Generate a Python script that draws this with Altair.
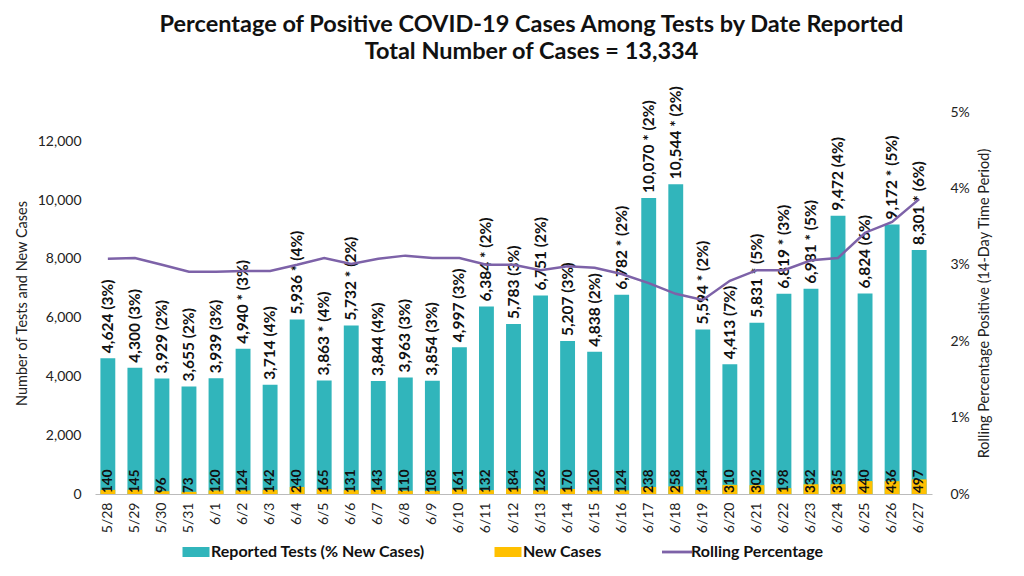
import altair as alt
import pandas as pd

dates = ["5/28", "5/29", "5/30", "5/31", "6/1", "6/2", "6/3", "6/4", "6/5", "6/6",
         "6/7", "6/8", "6/9", "6/10", "6/11", "6/12", "6/13", "6/14", "6/15", "6/16",
         "6/17", "6/18", "6/19", "6/20", "6/21", "6/22", "6/23", "6/24", "6/25", "6/26", "6/27"]
tests = [4624, 4300, 3929, 3655, 3939, 4940, 3714, 5936, 3863, 5732,
         3844, 3963, 3854, 4997, 6384, 5783, 6751, 5207, 4838, 6782,
         10070, 10544, 5594, 4413, 5831, 6819, 6981, 9472, 6824, 9172, 8301]
pos_pct = [3, 3, 2, 2, 3, 3, 4, 4, 4, 2,
           4, 3, 3, 3, 2, 3, 2, 3, 2, 2,
           2, 2, 2, 7, 5, 3, 5, 4, 6, 5, 6]
starred = [0, 0, 0, 0, 0, 1, 0, 1, 1, 1,
           0, 0, 0, 0, 1, 0, 0, 0, 0, 1,
           1, 1, 1, 0, 1, 1, 1, 0, 0, 1, 1]
new_cases = [140, 145, 96, 73, 120, 124, 142, 240, 165, 131,
             143, 110, 108, 161, 132, 184, 126, 170, 120, 124,
             238, 258, 134, 310, 302, 198, 332, 335, 440, 436, 497]
rolling_pct = [3.08, 3.09, 3.00, 2.91, 2.91, 2.92, 2.92, 3.00, 3.09, 3.01,
               3.08, 3.12, 3.09, 3.09, 3.00, 3.00, 2.93, 2.98, 2.96, 2.88,
               2.76, 2.62, 2.54, 2.79, 2.93, 2.93, 3.06, 3.09, 3.42, 3.56, 3.86]
series_names = ["Reported Tests (% New Cases)", "New Cases", "Rolling Percentage"]

TEAL = "#31B5BB"
GOLD = "#FFC000"
PURPLE = "#7D62A8"
FONT = "Lato"

labels = [f"{t:,}{' * ' if s else '  '}({p}%)" for t, s, p in zip(tests, starred, pos_pct)]

df = pd.DataFrame({
    "date": dates,
    "tests": tests,
    "new": new_cases,
    "label": labels,
    "roll": [r / 100 for r in rolling_pct],
    "s_tests": series_names[0],
    "s_new": series_names[1],
    "s_roll": series_names[2],
})

x_enc = alt.X("date:N", sort=dates, title=None,
              scale=alt.Scale(paddingInner=0.45, paddingOuter=0.2),
              axis=alt.Axis(labelAngle=-90, labelFontSize=14, labelFont=FONT,
                            labelColor="#222", domainColor="#BBBBBB", ticks=False,
                            labelPadding=8))

y_left = alt.Y("tests:Q", scale=alt.Scale(domain=[0, 13000], nice=False),
               axis=alt.Axis(values=[0, 2000, 4000, 6000, 8000, 10000, 12000], format=",d",
                             title="Number of Tests and New Cases", grid=False, domain=False,
                             ticks=False, labelFontSize=14, labelFont=FONT, labelColor="#222",
                             titleFontSize=14.5, titleFont=FONT, titleFontWeight="normal",
                             titleColor="#222", labelPadding=14, titlePadding=8))

fill_scale = alt.Scale(domain=series_names[:2], range=[TEAL, GOLD])
fill_legend = alt.Legend(title=None, orient="none", legendX=91, legendY=430,
                         direction="horizontal",
                         symbolType="M-1.35,-0.5H1.35V0.5H-1.35Z", symbolSize=400,
                         symbolStrokeWidth=0, labelFontSize=16, labelFont=FONT,
                         labelFontWeight="bold", labelColor="#111", columnPadding=68,
                         labelOffset=5, labelLimit=400, symbolOpacity=1)

base = alt.Chart(df).encode(x=x_enc)

tests_bar = base.mark_bar().encode(
    y=y_left,
    fill=alt.Fill("s_tests:N", scale=fill_scale, legend=fill_legend),
)
new_bar = base.mark_bar().encode(
    y=alt.Y("new:Q"),
    fill=alt.Fill("s_new:N", scale=fill_scale, legend=fill_legend),
)
top_text = base.mark_text(angle=270, align="left", baseline="middle", dx=5,
                          fontSize=15.5, font=FONT, fontWeight="bold", color="#111").encode(
    y=alt.Y("tests:Q"), text="label:N")
new_text = base.mark_text(angle=270, align="left", baseline="middle", dx=1,
                          fontSize=13.5, font=FONT, fontWeight="bold", color="#111").encode(
    y=alt.datum(0), text=alt.Text("new:Q"))

left = alt.layer(tests_bar, new_bar, top_text, new_text)

line = base.mark_line(strokeWidth=2.5).encode(
    y=alt.Y("roll:Q", scale=alt.Scale(domain=[0, 0.05], nice=False),
            axis=alt.Axis(orient="right", format=".0%", values=[0, 0.01, 0.02, 0.03, 0.04, 0.05],
                          title="Rolling Percentage Positive (14-Day Time Period)", grid=False,
                          domain=False, ticks=False, labelFontSize=14, labelFont=FONT,
                          labelColor="#222", titleFontSize=14.5, titleFont=FONT,
                          titleFontWeight="normal", titleColor="#222", titleAngle=270,
                          titleBaseline="top", labelPadding=18, titlePadding=8)),
    stroke=alt.Stroke("s_roll:N",
                      scale=alt.Scale(domain=[series_names[2]], range=[PURPLE]),
                      legend=alt.Legend(title=None, orient="none", legendX=572, legendY=430,
                                        symbolType="M-1.5,-0.14H1.5V0.14H-1.5Z",
                                        symbolSize=400, symbolStrokeWidth=0,
                                        symbolFillColor=PURPLE, labelOffset=4,
                                        labelFontSize=16, labelFont=FONT, labelLimit=400,
                                        labelFontWeight="bold", labelColor="#111")),
)

chart = alt.layer(left, line).resolve_scale(y="independent", fill="independent",
                                            stroke="independent").properties(
    width=837, height=382,
    autosize=alt.AutoSizeParams(type="none"),
    padding={"left": 87, "top": 104, "right": 84, "bottom": 74},
    title=alt.Title(["Percentage of Positive COVID-19 Cases Among Tests by Date Reported",
                     "Total Number of Cases = 13,334"],
                    fontSize=23.5, font=FONT, fontWeight="bold", color="#111",
                    anchor="middle", lineHeight=27, offset=23, dx=18),
).configure_view(stroke=None)

chart.save("out.html", embed_options={"renderer": "svg", "actions": False})
